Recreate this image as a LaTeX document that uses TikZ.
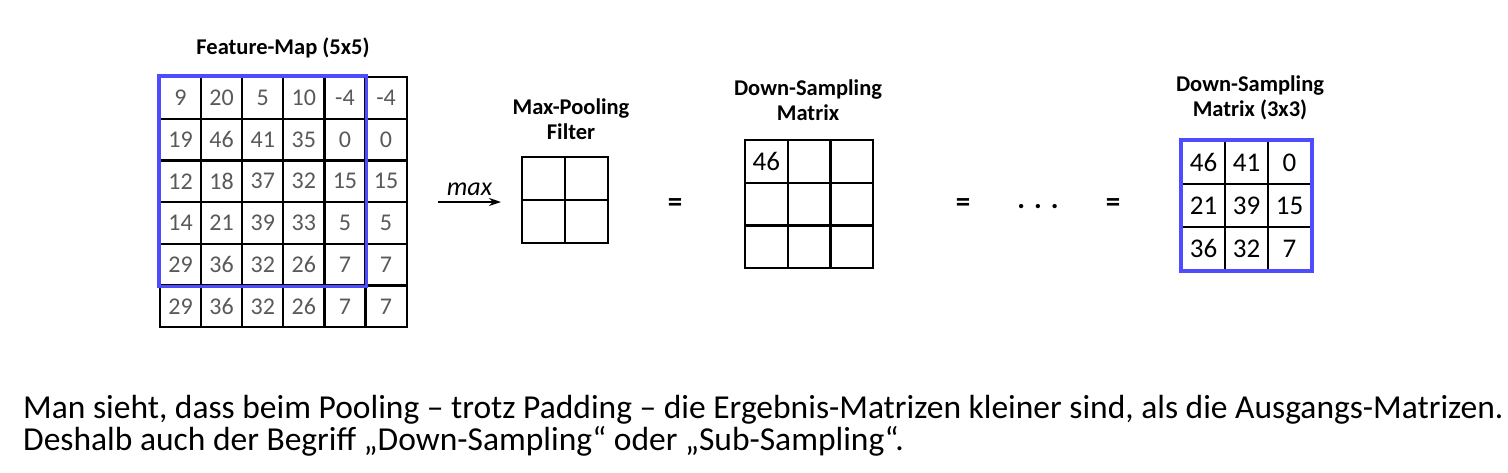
\documentclass[tikz,border=0pt]{standalone}
\usepackage{fontspec}
\setmainfont{Carlito}
\usetikzlibrary{arrows.meta}

\definecolor{rahmenblau}{RGB}{77,77,255}
\definecolor{zahlgrau}{RGB}{89,89,89}

\begin{document}
\begin{tikzpicture}[x=1pt, y=-1pt,
  fmzelle/.style={draw, line width=2.2pt, inner sep=0pt, minimum width=41.1pt, minimum height=41.7pt, text=zahlgrau, font=\fontsize{24}{28}\selectfont},
  zelle/.style={draw, line width=2.2pt, inner sep=0pt, minimum width=#1pt, minimum height=#1pt, font=\fontsize{27}{30}\selectfont},
  titel/.style={align=center, inner sep=0pt, font=\bfseries\fontsize{22.5}{25.5}\selectfont},
  gleich/.style={inner sep=0pt, font=\bfseries\fontsize{29}{32}\selectfont},
  blaurahmen/.style={draw=rahmenblau, line width=3.5pt},
  fliesstext/.style={inner sep=0pt, anchor=base west, font=\fontsize{33.5}{36}\selectfont}]

\useasboundingbox (0,0) rectangle (1508,472);

% Feature-Map (6x6 mit Padding)
\node[titel] (fmtitel) at (283,48) {Feature-Map (5x5)};
\foreach \zeile/\werte in {1/{9,20,5,10,-4,-4}, 2/{19,46,41,35,0,0}, 3/{12,18,37,32,15,15},
                          4/{14,21,39,33,5,5}, 5/{29,36,32,26,7,7}, 6/{29,36,32,26,7,7}} {
  \foreach \w [count=\spalte] in \werte {
    \node[fmzelle] (f-\zeile-\spalte) at ({160+41.1*(\spalte-0.5)},{77+41.7*(\zeile-0.5)}) {\w};
  }
}
\draw[blaurahmen] (f-1-1.north west) rectangle (f-5-5.south east);

% Pfeil max
\coordinate (pfeilstart) at (438,202);
\coordinate (pfeilende) at (501,202);
\draw[line width=1.5pt, -{Stealth[length=12pt,width=8pt]}] (pfeilstart) -- node[above=6pt, inner sep=0pt, font=\itshape\fontsize{26}{28}\selectfont] (maxtext) {max} (pfeilende);

% Max-Pooling Filter
\node[titel] (pooltitel) at (571,119) {Max-Pooling\\Filter};
\foreach \z in {1,2} {
  \foreach \s in {1,2} {
    \node[zelle=43] (p-\z-\s) at ({521.7+43*(\s-0.5)},{157.3+43*(\z-0.5)}) {};
  }
}

\node[gleich] (gleich1) at (675,205) {=};

% Down-Sampling Matrix
\node[titel] (dstitel) at (808,100) {Down-Sampling\\Matrix};
\foreach \z in {1,2,3} {
  \foreach \s in {1,2,3} {
    \node[zelle=42.7] (d-\z-\s) at ({745+42.7*(\s-0.5)},{140+42.7*(\z-0.5)}) {};
  }
}
\node[inner sep=0pt, font=\fontsize{27}{30}\selectfont] (wert46) at (d-1-1) {46};

\node[gleich] (gleich2) at (963,205) {=};
\node[gleich] (punkte) at (1038,207) {.\hspace{9pt}.\hspace{9pt}.};
\node[gleich] (gleich3) at (1113,205) {=};

% Ergebnis 3x3
\node[titel] (ergtitel) at (1250,98) {Down-Sampling\\Matrix (3x3)};
\foreach \z/\werte in {1/{46,41,0}, 2/{21,39,15}, 3/{36,32,7}} {
  \foreach \w [count=\s] in \werte {
    \node[zelle=43] (e-\z-\s) at ({1182+43*(\s-0.5)},{141+43*(\z-0.5)}) {\w};
  }
}
\draw[blaurahmen] (e-1-1.north west) rectangle (e-3-3.south east);

% Text unten
\node[fliesstext] (satz1) at (23,418) {Man sieht, dass beim Pooling – trotz Padding – die Ergebnis-Matrizen kleiner sind, als die Ausgangs-Matrizen.};
\node[fliesstext] (satz2) at (23,450) {Deshalb auch der Begriff „Down-Sampling“ oder „Sub-Sampling“.};

\end{tikzpicture}
\end{document}
